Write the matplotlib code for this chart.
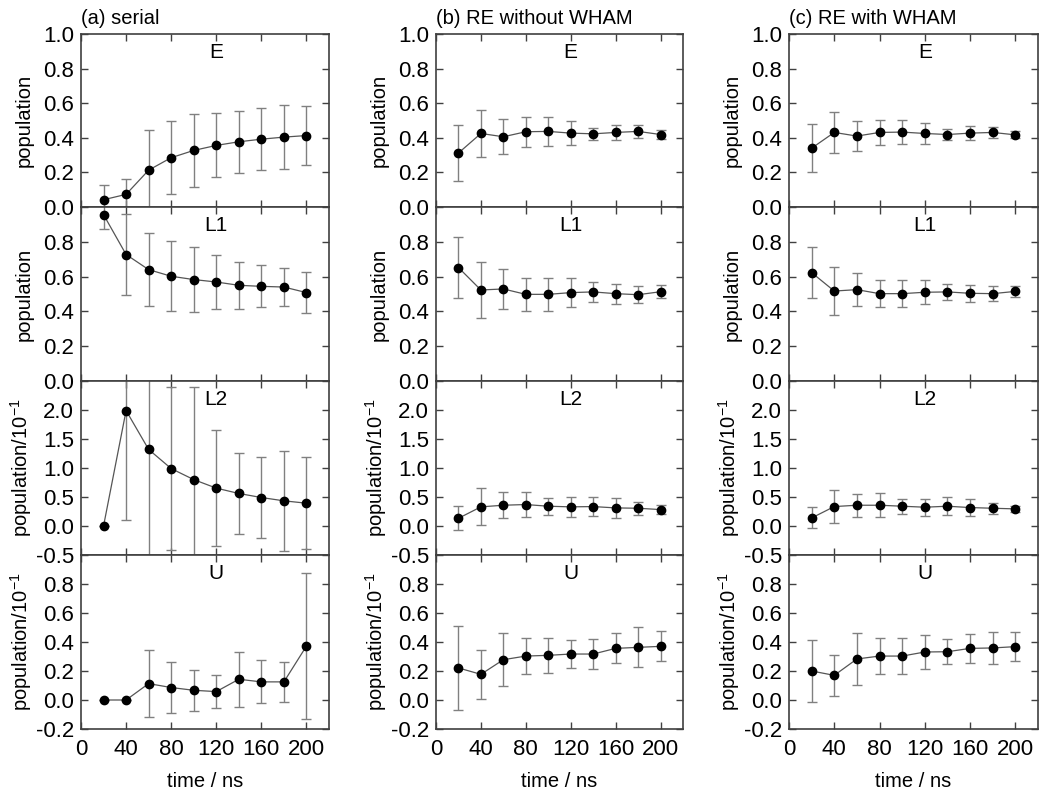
import numpy as np
import matplotlib
matplotlib.use('Agg')
import matplotlib.pyplot as plt

plt.rcParams['font.family'] = ['Liberation Sans', 'DejaVu Sans']
plt.rcParams['mathtext.fontset'] = 'custom'
plt.rcParams['mathtext.rm'] = 'Liberation Sans'
plt.rcParams['mathtext.it'] = 'Liberation Sans:italic'

time = [20, 40, 60, 80, 100, 120, 140, 160, 180, 200]

# (a) serial
serial_E = [0.042, 0.073, 0.213, 0.285, 0.327, 0.356, 0.377, 0.392, 0.404, 0.413]
serial_E_err = [0.088, 0.09, 0.23, 0.21, 0.21, 0.185, 0.18, 0.18, 0.187, 0.17]
serial_L1 = [0.956, 0.727, 0.640, 0.602, 0.583, 0.569, 0.550, 0.544, 0.540, 0.508]
serial_L1_err = [0.085, 0.23, 0.21, 0.2, 0.187, 0.156, 0.135, 0.12, 0.108, 0.118]
serial_L2 = [0.0, 1.99, 1.32, 0.99, 0.80, 0.653, 0.561, 0.491, 0.434, 0.393]
serial_L2_err = [0.0, 1.89, 2.0, 1.41, 1.59, 1.0, 0.7, 0.7, 0.86, 0.79]
serial_U = [0.0, 0.0, 0.113, 0.086, 0.067, 0.058, 0.143, 0.125, 0.125, 0.372]
serial_U_err = [0.0, 0.0, 0.23, 0.173, 0.14, 0.116, 0.19, 0.148, 0.139, 0.505]

# (b) RE without WHAM
re_E = [0.312, 0.425, 0.406, 0.435, 0.437, 0.427, 0.423, 0.431, 0.437, 0.419]
re_E_err = [0.16, 0.137, 0.102, 0.088, 0.086, 0.069, 0.036, 0.045, 0.036, 0.027]
re_L1 = [0.652, 0.523, 0.529, 0.498, 0.498, 0.508, 0.512, 0.502, 0.496, 0.513]
re_L1_err = [0.173, 0.162, 0.113, 0.095, 0.095, 0.084, 0.057, 0.058, 0.049, 0.036]
re_L2 = [0.133, 0.33, 0.358, 0.37, 0.341, 0.33, 0.335, 0.312, 0.306, 0.283]
re_L2_err = [0.21, 0.32, 0.22, 0.22, 0.145, 0.167, 0.17, 0.17, 0.11, 0.08]
re_U = [0.221, 0.177, 0.278, 0.303, 0.308, 0.317, 0.317, 0.356, 0.363, 0.37]
re_U_err = [0.292, 0.17, 0.183, 0.127, 0.12, 0.097, 0.105, 0.104, 0.138, 0.104]

# (c) RE with WHAM
wham_E = [0.340, 0.431, 0.410, 0.431, 0.433, 0.425, 0.419, 0.427, 0.431, 0.417]
wham_E_err = [0.138, 0.118, 0.088, 0.071, 0.069, 0.058, 0.031, 0.04, 0.031, 0.021]
wham_L1 = [0.623, 0.517, 0.525, 0.502, 0.502, 0.51, 0.512, 0.504, 0.502, 0.515]
wham_L1_err = [0.146, 0.14, 0.094, 0.077, 0.076, 0.07, 0.047, 0.05, 0.042, 0.03]
wham_L2 = [0.139, 0.335, 0.358, 0.358, 0.341, 0.324, 0.341, 0.318, 0.306, 0.295]
wham_L2_err = [0.18, 0.28, 0.2, 0.205, 0.133, 0.148, 0.153, 0.153, 0.095, 0.055]
wham_U = [0.2, 0.17, 0.283, 0.303, 0.303, 0.331, 0.333, 0.356, 0.359, 0.368]
wham_U_err = [0.216, 0.143, 0.182, 0.122, 0.125, 0.12, 0.088, 0.1, 0.11, 0.1]

col_titles = ['(a) serial', '(b) RE without WHAM', '(c) RE with WHAM']
state_names = ['E', 'L1', 'L2', 'U']
ylabels = ['population', 'population', r'population/10$^{-1}$', r'population/10$^{-1}$']
y_ticks = [np.arange(0, 1.01, 0.2), np.arange(0, 1.01, 0.2),
           np.arange(-0.5, 2.51, 0.5), np.arange(-0.2, 1.01, 0.2)]

columns = [
    [(serial_E, serial_E_err), (serial_L1, serial_L1_err),
     (serial_L2, serial_L2_err), (serial_U, serial_U_err)],
    [(re_E, re_E_err), (re_L1, re_L1_err), (re_L2, re_L2_err), (re_U, re_U_err)],
    [(wham_E, wham_E_err), (wham_L1, wham_L1_err),
     (wham_L2, wham_L2_err), (wham_U, wham_U_err)],
]

W, H = 1050, 798
col_left = [81, 436, 789]
col_right = [329, 683, 1038]
row_edges = [34, 207, 381, 555, 729]
spine_col = '#404040'
tick_fs = 16
label_fs = 14.5


def drawPanel(ax, y, err, row):
    ax.errorbar(time, y, yerr=err, fmt='none', ecolor='#808080',
                elinewidth=1.0, capsize=3.5, capthick=1.0)
    ax.plot(time, y, '-', color='#555555', lw=0.9)
    ax.plot(time, y, 'o', color='black', ms=6)
    ticks = y_ticks[row]
    ax.set_ylim(ticks[0], ticks[-1])
    ax.set_yticks(ticks)
    labels = ['%.1f' % t for t in ticks]
    if row > 0:
        labels[-1] = ''
    ax.set_yticklabels(labels)
    ax.set_xlim(0, 220)
    ax.set_xticks(np.arange(0, 201, 40))
    ax.tick_params(direction='in', top=True, right=True, length=5,
                   width=1.0, color=spine_col, labelsize=tick_fs, pad=5)
    ax.tick_params(axis='x', pad=7)
    for s in ax.spines.values():
        s.set_color(spine_col)
        s.set_linewidth(1.2)
    ax.set_ylabel(ylabels[row], fontsize=label_fs)
    ax.yaxis.set_label_coords(-0.19, 0.5)
    ax.text(120, 0.895, state_names[row], transform=ax.get_xaxis_transform(),
            ha='center', va='center', fontsize=label_fs + 0.5)


fig = plt.figure(figsize=(W / 100, H / 100), dpi=100)

for c in range(3):
    for r in range(4):
        left = col_left[c] / W
        width = (col_right[c] - col_left[c]) / W
        bottom = 1 - row_edges[r + 1] / H
        height = (row_edges[r + 1] - row_edges[r]) / H
        ax = fig.add_axes([left, bottom, width, height])
        y, err = columns[c][r]
        drawPanel(ax, y, err, r)
        if r < 3:
            ax.tick_params(labelbottom=False)
        else:
            ax.set_xlabel('time / ns', fontsize=label_fs, labelpad=9)
        if r == 0:
            ax.text(0.0, 1.035, col_titles[c], transform=ax.transAxes,
                    ha='left', va='bottom', fontsize=label_fs)

fig.savefig('out.png', dpi=100)
plt.close()
